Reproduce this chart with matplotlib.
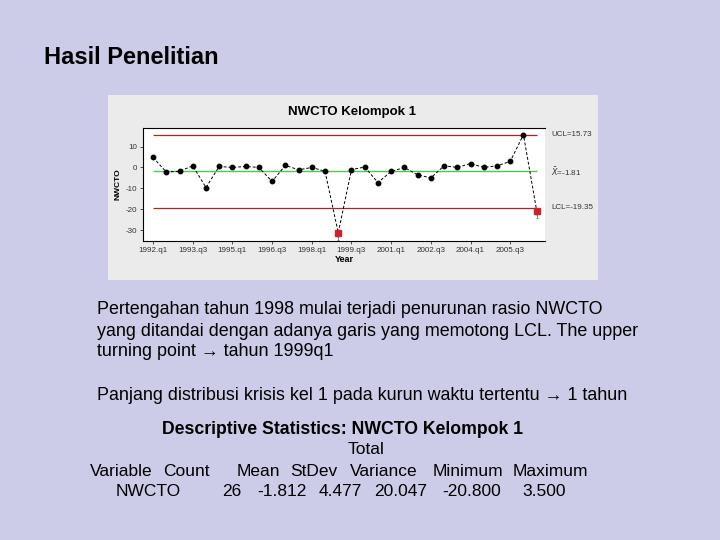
import numpy as np
import matplotlib
matplotlib.use('Agg')
import matplotlib.pyplot as plt

plt.rcParams['font.family'] = ['Liberation Sans', 'DejaVu Sans']
plt.rcParams['axes.unicode_minus'] = False

# data (one point per half year)
tick_labels = ['1992.q1', '1993.q3', '1995.q1', '1996.q3', '1998.q1',
               '1999.q3', '2001.q1', '2002.q3', '2004.q1', '2005.q3']
nwcto = [4.8, -2.2, -1.8, 0.8, -9.6, 0.5, 0.0, 0.5, 0.0, -6.7,
         1.0, -1.1, 0.0, -1.8, -31.3, -1.0, 0.2, -7.2, -1.9, 0.0,
         -3.5, -5.0, 0.8, 0.0, 1.9, 0.0, 0.8, 2.9, 15.7, -20.6]
out_idx = [14, 29]
ucl = 15.73
xbar = -1.81
lcl = -19.35

stat_headers = ['Variable', 'Count', 'Mean', 'StDev', 'Variance', 'Minimum', 'Maximum']
stat_values = ['NWCTO', '26', '-1.812', '4.477', '20.047', '-20.800', '3.500']

W, H = 720, 540
fig = plt.figure(figsize=(7.2, 5.4), dpi=100)
fig.patch.set_facecolor('#CCCCE8')

def fx(px):
    return px / W

def fy(py):
    return 1 - py / H

# gray panel of the pasted chart
bg = fig.add_axes([fx(108), fy(280), fx(598) - fx(108), (280 - 95) / H], zorder=0)
bg.set_facecolor('#EBEBEB')
bg.set_xticks([])
bg.set_yticks([])
for s in bg.spines.values():
    s.set_visible(False)

ax = fig.add_axes([fx(143), fy(241), fx(545) - fx(143), (241 - 128) / H], zorder=1)
ax.set_facecolor('white')
x = np.arange(len(nwcto))
ax.hlines([ucl, lcl], 0, len(nwcto) - 1, color='#B22222', lw=0.9)
ax.hlines(xbar, 0, len(nwcto) - 1, color='#50C850', lw=1.0)
ax.plot(x, nwcto, color='black', ls=(0, (3, 2)), lw=0.7,
        marker='o', ms=3.2, mfc='black', mec='black')
ax.plot(x[out_idx], np.array(nwcto)[out_idx], ls='none', marker='s', ms=3.8,
        mfc='#D0202A', mec='#D0202A')
for i in out_idx:
    ax.text(i, nwcto[i] - 2.2, '1', fontsize=4, ha='center', va='top', color='#333333')

ax.set_xlim(-0.76, 29.63)
ax.set_ylim(-35.2, 18.9)
ax.set_xticks(x[::3])
ax.set_xticklabels(tick_labels)
ax.set_yticks([10, 0, -10, -20, -30])
ax.tick_params(labelsize=5.8, length=2.5, width=0.6, pad=1.5, colors='#333333')
ax.spines['right'].set_visible(False)
for s in ['left', 'bottom', 'top']:
    ax.spines[s].set_linewidth(0.8)
ax.set_xlabel('Year', fontsize=6.5, fontweight='bold', labelpad=1)
ax.set_ylabel('NWCTO', fontsize=6, fontweight='bold', labelpad=3)
ax.set_title('NWCTO Kelompok 1', fontsize=9.5, fontweight='bold', pad=9, x=0.519)

ax.text(1.015, ucl, 'UCL=15.73', transform=ax.get_yaxis_transform(),
        fontsize=5.8, va='center', color='#333333')
ax.text(1.015, xbar, r'$\bar{X}$=-1.81', transform=ax.get_yaxis_transform(),
        fontsize=5.8, va='center', color='#333333')
ax.text(1.015, lcl, 'LCL=-19.35', transform=ax.get_yaxis_transform(),
        fontsize=5.8, va='center', color='#333333')

# slide texts
fig.text(fx(44), fy(58), 'Hasil Penelitian', fontsize=17, fontweight='bold', va='center')
para = ['Pertengahan tahun 1998 mulai terjadi penurunan rasio NWCTO',
        'yang ditandai dengan adanya garis yang memotong LCL. The upper',
        'turning point \u2192 tahun 1999q1']
for line, py in zip(para, [310, 331, 352]):
    fig.text(fx(97), fy(py), line, fontsize=12.9, va='center')
fig.text(fx(97), fy(396), 'Panjang distribusi krisis kel 1 pada kurun waktu tertentu \u2192 1 tahun',
         fontsize=12.9, va='center')

fig.text(fx(342), fy(429), 'Descriptive Statistics: NWCTO Kelompok 1', fontsize=12.7,
         fontweight='bold', ha='center', va='center')
fig.text(fx(366), fy(450), 'Total', fontsize=12.5, ha='center', va='center')
head_x = [121.7, 186, 258.5, 313.5, 384, 467.5, 550]
val_x = [148.5, 232, 282, 340.5, 401, 472, 544.5]
for h, px in zip(stat_headers, head_x):
    fig.text(fx(px), fy(471), h, fontsize=12.5, ha='center', va='center')
for v, px in zip(stat_values, val_x):
    fig.text(fx(px), fy(492), v, fontsize=12.5, ha='center', va='center')

fig.savefig('out.png', dpi=100, facecolor=fig.get_facecolor())
